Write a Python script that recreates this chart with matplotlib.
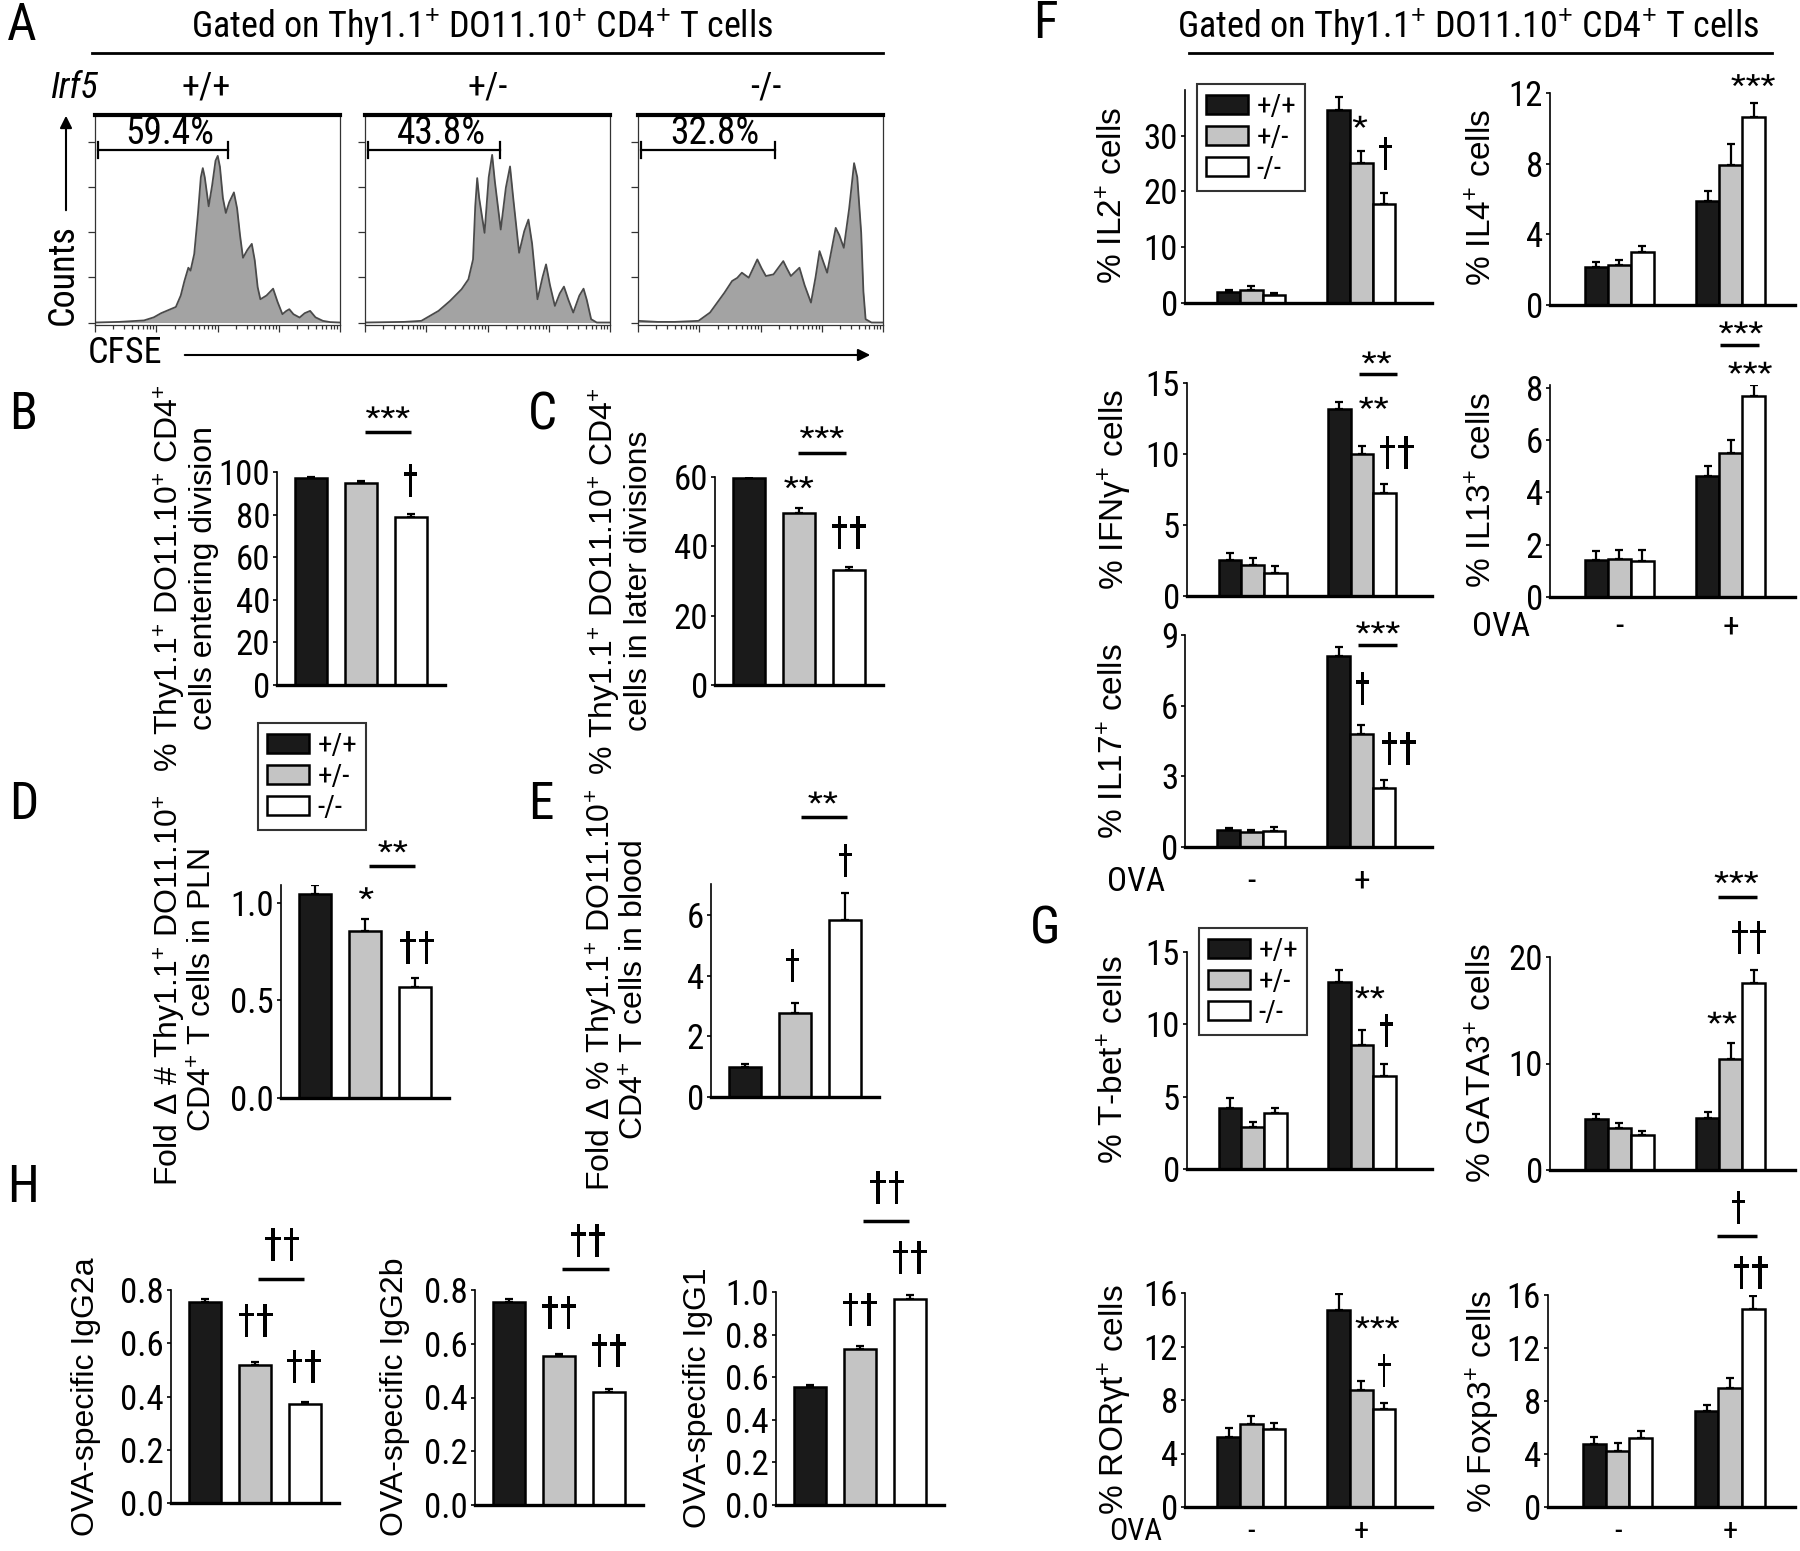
import numpy as np
import matplotlib.pyplot as plt
from matplotlib import font_manager
from matplotlib.font_manager import FontProperties
from matplotlib.patches import Patch, FancyArrowPatch, PathPatch
from matplotlib.lines import Line2D
from matplotlib.textpath import TextPath
from matplotlib.transforms import blended_transform_factory, Affine2D, IdentityTransform

plt.rcParams['font.family'] = ['Liberation Sans', 'DejaVu Sans']
plt.rcParams['mathtext.fontset'] = 'custom'
plt.rcParams['mathtext.rm'] = 'Liberation Sans'
plt.rcParams['mathtext.it'] = 'Liberation Sans:italic'
plt.rcParams['mathtext.bf'] = 'Liberation Sans:bold'

# narrow face for ticks / short labels (falls back to regular, a bit smaller)
_names = {f.name for f in font_manager.fontManager.ttflist}
NARROW = next((n for n in ['Liberation Sans Narrow', 'Roboto Condensed', 'Open Sans Condensed',
                           'Arial Narrow'] if n in _names), None)
NS = 1.0
if NARROW is None:
    NARROW, NS = 'Liberation Sans', 0.86

# ---------------- data ----------------
genotypes = ['+/+', '+/-', '-/-']
ova_groups = ['-', '+']
gate_labels = ['59.4%', '43.8%', '32.8%']
gate_ends = [0.541, 0.549, 0.558]

# CFSE histograms (x: fraction of log axis, y: fraction of box height)
wt_x = [0.00, 0.10, 0.20, 0.24, 0.27, 0.30, 0.33, 0.35, 0.365, 0.381, 0.39, 0.405, 0.42, 0.432, 0.44, 0.448,
        0.464, 0.478, 0.492, 0.501, 0.51, 0.522, 0.534, 0.548, 0.567, 0.58, 0.592, 0.604, 0.622, 0.64, 0.652,
        0.664, 0.675, 0.70, 0.727, 0.745, 0.765, 0.78, 0.793, 0.81, 0.835, 0.856, 0.878, 0.90, 0.93, 0.96, 1.00]
wt_y = [0.000, 0.003, 0.010, 0.025, 0.045, 0.060, 0.075, 0.130, 0.200, 0.264, 0.250, 0.330, 0.520, 0.700, 0.744,
        0.700, 0.560, 0.660, 0.780, 0.803, 0.750, 0.600, 0.528, 0.580, 0.627, 0.550, 0.420, 0.312, 0.350, 0.379,
        0.300, 0.170, 0.112, 0.130, 0.163, 0.100, 0.040, 0.055, 0.064, 0.040, 0.024, 0.045, 0.056, 0.025, 0.008,
        0.002, 0.000]
het_x = [0.00, 0.16, 0.23, 0.30, 0.347, 0.394, 0.422, 0.441, 0.450, 0.458, 0.466, 0.488, 0.505, 0.519, 0.530,
         0.554, 0.575, 0.592, 0.605, 0.629, 0.650, 0.667, 0.682, 0.704, 0.725, 0.739, 0.755, 0.775, 0.795, 0.812,
         0.830, 0.850, 0.875, 0.892, 0.905, 0.923, 0.946, 1.00]
het_y = [0.000, 0.003, 0.008, 0.056, 0.104, 0.160, 0.208, 0.304, 0.560, 0.696, 0.600, 0.432, 0.700, 0.808, 0.680,
         0.448, 0.650, 0.752, 0.600, 0.336, 0.440, 0.496, 0.380, 0.112, 0.220, 0.280, 0.180, 0.080, 0.140, 0.173,
         0.110, 0.048, 0.130, 0.163, 0.110, 0.016, 0.000, 0.000]
ko_x = [0.00, 0.08, 0.15, 0.247, 0.294, 0.353, 0.384, 0.405, 0.424, 0.452, 0.487, 0.505, 0.522, 0.553, 0.593,
        0.608, 0.624, 0.659, 0.68, 0.706, 0.725, 0.741, 0.757, 0.772, 0.79, 0.807, 0.822, 0.840, 0.862, 0.882,
        0.895, 0.911, 0.920, 0.929, 0.953, 1.00]
ko_y = [0.008, 0.003, 0.003, 0.008, 0.048, 0.144, 0.200, 0.215, 0.240, 0.216, 0.304, 0.260, 0.224, 0.232, 0.296,
        0.260, 0.224, 0.264, 0.180, 0.096, 0.220, 0.344, 0.290, 0.240, 0.350, 0.456, 0.420, 0.360, 0.550, 0.768,
        0.700, 0.432, 0.150, 0.016, 0.000, 0.000]

entering_division = [97.0, 95.0, 79.0]
entering_division_err = [0.5, 0.8, 1.2]
later_divisions = [59.8, 49.7, 33.1]
later_divisions_err = [1.0, 1.4, 1.0]
fold_pln = [1.047, 0.857, 0.569]
fold_pln_err = [0.045, 0.062, 0.047]
fold_blood = [0.99, 2.77, 5.84]
fold_blood_err = [0.11, 0.33, 0.89]

igg2a = [0.755, 0.52, 0.37]
igg2a_err = [0.012, 0.010, 0.010]
igg2b = [0.755, 0.555, 0.42]
igg2b_err = [0.010, 0.008, 0.012]
igg1 = [0.555, 0.733, 0.967]
igg1_err = [0.008, 0.012, 0.018]

# rows: OVA -, OVA + ; columns: +/+, +/-, -/-
il2 = [[1.9, 2.4, 1.4], [34.7, 25.1, 17.8]]
il2_err = [[0.4, 0.6, 0.4], [2.2, 2.2, 2.0]]
il4 = [[2.17, 2.26, 3.01], [5.88, 7.95, 10.65]]
il4_err = [[0.26, 0.28, 0.32], [0.56, 1.19, 0.79]]
ifng = [[2.53, 2.18, 1.59], [13.15, 9.99, 7.27]]
ifng_err = [[0.52, 0.47, 0.52], [0.52, 0.56, 0.65]]
il13 = [[1.40, 1.46, 1.38], [4.61, 5.50, 7.67]]
il13_err = [[0.35, 0.32, 0.40], [0.38, 0.49, 0.42]]
il17 = [[0.71, 0.64, 0.66], [8.09, 4.81, 2.52]]
il17_err = [[0.09, 0.07, 0.19], [0.40, 0.38, 0.34]]
tbet = [[4.25, 2.87, 3.84], [12.92, 8.55, 6.41]]
tbet_err = [[0.67, 0.39, 0.41], [0.85, 1.04, 0.88]]
gata3 = [[4.75, 3.90, 3.30], [4.84, 10.40, 17.60]]
gata3_err = [[0.55, 0.50, 0.40], [0.56, 1.50, 1.15]]
rorgt = [[5.20, 6.20, 5.80], [14.75, 8.75, 7.33]]
rorgt_err = [[0.68, 0.60, 0.50], [1.18, 0.70, 0.42]]
foxp3 = [[4.75, 4.24, 5.20], [7.26, 8.99, 14.94]]
foxp3_err = [[0.52, 0.58, 0.55], [0.42, 0.78, 1.01]]

FILLS = ['#1a1a1a', '#c4c4c4', 'white']
GROUP_GAP = 4.85

# ---------------- figure helpers ----------------
W, H = 1800, 1551
fig = plt.figure(figsize=(18, 15.51), dpi=100)
GLYPH_FONT = FontProperties(family=NARROW)


def fx(x):
    return x / W


def fy(y):
    return 1 - y / H


def px_axes(x0, y0, x1, y1):
    return fig.add_axes([fx(x0), fy(y1), (x1 - x0) / W, (y1 - y0) / H])


def ftext(x, y, s, **kw):
    kw.setdefault('ha', 'center')
    kw.setdefault('va', 'center')
    fig.text(fx(x), fy(y), s, **kw)


def ntext(x, y, s, size, **kw):
    # short labels in the narrow face
    ftext(x, y, s, fontsize=size * NS, family=[NARROW, 'DejaVu Sans'], **kw)


def fline(x0, x1, y, lw=2):
    fig.add_artist(Line2D([fx(x0), fx(x1)], [fy(y), fy(y)], transform=fig.transFigure,
                          color='black', lw=lw))


def style_bar_axes(ax, ylim, yticks, fmt='{:g}'):
    ax.set_ylim(*ylim)
    ax.set_yticks(yticks)
    ax.set_yticklabels([fmt.format(t) for t in yticks])
    for s in ('top', 'right'):
        ax.spines[s].set_visible(False)
    ax.spines['left'].set_linewidth(1.2)
    ax.spines['bottom'].set_linewidth(2.4)
    ax.set_xticks([])
    ax.tick_params(axis='y', direction='out', length=3, width=1.2, labelsize=25 * NS, pad=2,
                   labelfontfamily=NARROW)
    ax.patch.set_alpha(0)


def note(ax, x, y, s):
    # significance marks: glyph outline scaled to the tall/narrow look of the source
    star = '*' in s
    tp = TextPath((0, 0), s, size=40, prop=GLYPH_FONT)
    ext = tp.get_extents()
    if star:
        hgt, wid = 12, 14.5 * len(s)
    else:
        hgt, wid = 33, (13 if len(s) == 1 else 34)
    cx, cy = ax.transData.transform((x, y))
    tr = (Affine2D().translate(-(ext.x0 + ext.width / 2), -(ext.y0 + ext.height / 2))
          .scale(wid / ext.width, hgt / ext.height).translate(cx, cy))
    fig.add_artist(PathPatch(tr.transform_path(tp), transform=IdentityTransform(),
                             facecolor='black', edgecolor='none'))


def bracket(ax, x0, x1, y):
    ax.plot([x0, x1], [y, y], color='black', lw=2.5, clip_on=False, solid_capstyle='butt')


def three_bars(rect, vals, errs, ylim, yticks, fmt, notes=(), brackets=()):
    ax = px_axes(*rect)
    x = np.arange(3)
    ax.errorbar(x, vals, yerr=[np.zeros(3), errs], fmt='none', ecolor='black',
                elinewidth=1.6, capsize=3, capthick=1.6, zorder=1)
    ax.bar(x, vals, width=0.64, color=FILLS, edgecolor='black', linewidth=1.8, zorder=2)
    ax.set_xlim(-0.67, 2.68)
    style_bar_axes(ax, ylim, yticks, fmt)
    for n in notes:
        note(ax, *n)
    for b in brackets:
        bracket(ax, *b)
    return ax


def group_bars(rect, vals, errs, ylim, yticks, xlim, notes=(), brackets=()):
    ax = px_axes(*rect)
    for g in range(2):
        x = np.arange(3) + g * GROUP_GAP
        ax.errorbar(x, vals[g], yerr=[np.zeros(3), errs[g]], fmt='none', ecolor='black',
                    elinewidth=1.6, capsize=3, capthick=1.6, zorder=1)
        ax.bar(x, vals[g], width=1.0, color=FILLS, edgecolor='black', linewidth=1.8, zorder=2)
    ax.set_xlim(*xlim)
    style_bar_axes(ax, ylim, yticks)
    for n in notes:
        note(ax, *n)
    for b in brackets:
        bracket(ax, *b)
    return ax


def ova_labels(ax, with_ova=True, dy=32, size=24):
    h = ax.get_position().height * H
    tr = blended_transform_factory(ax.transData, ax.transAxes)
    yy = -dy / h
    fam = [NARROW, 'DejaVu Sans']
    for i, s in enumerate(ova_groups):
        ax.text(1 + i * GROUP_GAP, yy, s, transform=tr, ha='center', va='center',
                fontsize=size * NS, family=fam)
    if with_ova:
        ax.text(-0.2, yy, 'OVA', transform=ax.transAxes, ha='center', va='center',
                fontsize=size * NS, family=fam)


def legend_at(x, y):
    handles = [Patch(facecolor=c, edgecolor='black', linewidth=1.8) for c in FILLS]
    leg = fig.legend(handles, genotypes, loc='upper left', bbox_to_anchor=(fx(x), fy(y)),
                     bbox_transform=fig.transFigure, frameon=True, fancybox=False,
                     prop={'family': NARROW, 'size': 21 * NS},
                     handlelength=1.45, handleheight=0.6, handletextpad=0.3, labelspacing=0.1,
                     borderpad=0.3, borderaxespad=0)
    leg.get_frame().set_edgecolor('black')
    leg.get_frame().set_linewidth(1.5)


SUP = '$^{+}$'

# ---------------- panel letters ----------------
for letter, (x, y) in {'A': (22, 26), 'B': (23, 415), 'C': (542, 415), 'D': (24, 805),
                       'E': (541, 805), 'H': (23, 1188), 'F': (1045, 24), 'G': (1045, 930)}.items():
    ntext(x, y, letter, 37)

# ---------------- panel A ----------------
ntext(482, 27, f'Gated on Thy1.1{SUP} DO11.10{SUP} CD4{SUP} T cells', 26)
fline(92, 883, 53)
ntext(74, 88, 'Irf5', 26, style='italic')
for gx, g in zip([206, 488, 766], genotypes):
    ntext(gx, 88, g, 26)

major = np.linspace(0, 1, 5)
minor = [(d + np.log10(k)) / 4 for d in range(4) for k in range(2, 10)]
hist_boxes = [(95, 115, 340, 325), (365, 115, 610, 325), (638, 115, 883, 325)]
for rect, hx, hy, lab, gend in zip(hist_boxes, [wt_x, het_x, ko_x], [wt_y, het_y, ko_y],
                                   gate_labels, gate_ends):
    ax = px_axes(*rect)
    ax.fill_between(hx, hy, 0, color='#a3a3a3', lw=0)
    ax.plot(hx, hy, color='#4a4a4a', lw=1.3)
    ax.set_xlim(0, 1)
    ax.set_ylim(-0.012, 1.0)
    for s in ('left', 'right', 'bottom'):
        ax.spines[s].set_linewidth(0.9)
        ax.spines[s].set_color('#333333')
    ax.spines['top'].set_linewidth(3)
    ax.set_xticks(major)
    ax.set_xticks(minor, minor=True)
    ax.set_yticks([0, 0.217, 0.435, 0.652, 0.87])
    ax.tick_params(which='both', direction='out', labelleft=False, labelbottom=False,
                   width=0.9, color='#333333')
    ax.tick_params(which='major', length=5)
    ax.tick_params(which='minor', length=3)
    ax.plot([0.012, gend], [0.833, 0.833], color='black', lw=1.6)
    for xe in (0.012, gend):
        ax.plot([xe, xe], [0.795, 0.871], color='black', lw=1.6)
    ax.text((0.012 + gend) / 2 + 0.03, 0.91, lab, ha='center', va='center',
            fontsize=27 * NS, family=[NARROW, 'DejaVu Sans'])

ntext(63, 275, 'Counts', 26, rotation=90)
fig.add_artist(FancyArrowPatch((fx(66), fy(213)), (fx(66), fy(113)), transform=fig.transFigure,
                               arrowstyle='-|>', mutation_scale=18, lw=1.5, color='black'))
ntext(88, 353, 'CFSE', 26, ha='left')
fig.add_artist(FancyArrowPatch((fx(182), fy(355)), (fx(873), fy(355)), transform=fig.transFigure,
                               arrowstyle='-|>', mutation_scale=18, lw=1.5, color='black'))

# ---------------- panels B-E ----------------
three_bars((277, 472, 445, 685), entering_division, entering_division_err, (0, 100),
           [0, 20, 40, 60, 80, 100], '{:g}',
           notes=[(2.0, 96, '†'), (1.54, 128, '***')], brackets=[(1.08, 2.0, 119)])
ftext(185, 578, f'% Thy1.1{SUP} DO11.10{SUP} CD4{SUP}\ncells entering division',
      fontsize=23, rotation=90, linespacing=1.05)

three_bars((715, 477, 883, 685), later_divisions, later_divisions_err, (0, 60),
           [0, 20, 40, 60], '{:g}',
           notes=[(1.0, 58.5, '**'), (2.0, 44.1, '††'), (1.46, 72.9, '***')],
           brackets=[(0.98, 1.94, 67)])
ftext(620, 581, f'% Thy1.1{SUP} DO11.10{SUP} CD4{SUP}\ncells in later divisions',
      fontsize=23, rotation=90, linespacing=1.05)

legend_at(258, 723)

three_bars((281, 885, 449, 1098), fold_pln, fold_pln_err, (0, 1.092),
           [0.0, 0.5, 1.0], '{:.1f}',
           notes=[(1.03, 1.05, '*'), (2.05, 0.774, '††'), (1.56, 1.29, '**')],
           brackets=[(1.09, 2.01, 1.19)])
ftext(185, 990, f'Fold Δ # Thy1.1{SUP} DO11.10{SUP}\nCD4{SUP} T cells in PLN',
      fontsize=23, rotation=90, linespacing=1.05)

three_bars((711, 884, 879, 1097), fold_blood, fold_blood_err, (0, 7.02),
           [0, 2, 4, 6], '{:g}',
           notes=[(0.95, 4.32, '†'), (2.02, 7.79, '†'), (1.56, 9.87, '**')],
           brackets=[(1.12, 2.04, 9.24)])
ftext(617, 990, f'Fold Δ % Thy1.1{SUP} DO11.10{SUP}\nCD4{SUP} T cells in blood',
      fontsize=23, rotation=90, linespacing=1.05)

# ---------------- panel H ----------------
h_ticks8 = [0.0, 0.2, 0.4, 0.6, 0.8]
three_bars((171, 1290, 339, 1503), igg2a, igg2a_err, (0, 0.8), h_ticks8, '{:.1f}',
           notes=[(1.02, 0.684, '††'), (1.98, 0.511, '††'), (1.55, 0.97, '††')],
           brackets=[(1.06, 1.98, 0.842)])
ftext(86, 1397, 'OVA-specific IgG2a', fontsize=23, rotation=90)

three_bars((475, 1290, 643, 1505), igg2b, igg2b_err, (0, 0.8), h_ticks8, '{:.1f}',
           notes=[(1.01, 0.717, '††'), (2.0, 0.576, '††'), (1.58, 0.985, '††')],
           brackets=[(1.07, 2.0, 0.877)])
ftext(395, 1397, 'OVA-specific IgG2b', fontsize=23, rotation=90)

three_bars((776, 1292, 944, 1505), igg1, igg1_err, (0, 1.0), [0.0, 0.2, 0.4, 0.6, 0.8, 1.0], '{:.1f}',
           notes=[(1.0, 0.92, '††'), (2.0, 1.16, '††'), (1.55, 1.49, '††')],
           brackets=[(1.06, 1.98, 1.333)])
ftext(698, 1398, 'OVA-specific IgG1', fontsize=23, rotation=90)

# ---------------- panel F ----------------
ntext(1468, 27, f'Gated on Thy1.1{SUP} DO11.10{SUP} CD4{SUP} T cells', 26)
fline(1189, 1772, 53)

XL = (-1.92, 8.96)   # left column
XR = (-2.0, 8.65)    # right column

group_bars((1185, 90, 1432, 303), il2, il2_err, (0, 38.2), [0, 10, 20, 30], XL,
           notes=[(5.79, 32.5, '*'), (6.9, 26.9, '†')])
ftext(1114, 195, f'% IL2{SUP} cells', fontsize=24, rotation=90)
legend_at(1197, 84)

group_bars((1550, 93, 1795, 305), il4, il4_err, (0, 12), [0, 4, 8, 12], XR,
           notes=[(6.83, 12.73, '***')])
ftext(1483, 197, f'% IL4{SUP} cells', fontsize=24, rotation=90)

group_bars((1187, 383, 1432, 596), ifng, ifng_err, (0, 15), [0, 5, 10, 15], XL,
           notes=[(6.37, 13.6, '**'), (7.4, 10.1, '††'), (6.5, 16.8, '**')],
           brackets=[(5.7, 7.4, 15.6)])
ftext(1115, 489, f'% IFNγ{SUP} cells', fontsize=24, rotation=90)

ax13 = group_bars((1550, 385, 1795, 597), il13, il13_err, (0, 8.1), [0, 2, 4, 6, 8], XR,
                  notes=[(6.7, 8.76, '***'), (6.3, 10.3, '***')],
                  brackets=[(5.4, 7.1, 9.64)])
ftext(1483, 490, f'% IL13{SUP} cells', fontsize=24, rotation=90)
ova_labels(ax13, dy=30)

ax17 = group_bars((1185, 635, 1432, 847), il17, il17_err, (0, 9), [0, 3, 6, 9], XL,
                  notes=[(5.9, 6.74, '†'), (7.5, 4.19, '††'), (6.58, 9.32, '***')],
                  brackets=[(5.7, 7.4, 8.56)])
ftext(1115, 741, f'% IL17{SUP} cells', fontsize=24, rotation=90)
ova_labels(ax17, dy=35)

# ---------------- panel G ----------------
group_bars((1187, 952, 1432, 1169), tbet, tbet_err, (0, 15), [0, 5, 10, 15], XL,
           notes=[(6.2, 12.2, '**'), (6.93, 9.6, '†')])
ftext(1115, 1060, f'% T-bet{SUP} cells', fontsize=24, rotation=90)
legend_at(1199, 928)

group_bars((1550, 957, 1795, 1170), gata3, gata3_err, (0, 20), [0, 10, 20], XR,
           notes=[(5.48, 14.3, '**'), (6.65, 21.8, '††'), (6.1, 27.5, '***')],
           brackets=[(5.3, 7.0, 25.6)])
ftext(1483, 1063, f'% GATA3{SUP} cells', fontsize=24, rotation=90)

axr = group_bars((1185, 1293, 1432, 1507), rorgt, rorgt_err, (0, 16), [0, 4, 8, 12, 16], XL,
                 notes=[(6.55, 13.8, '***'), (6.85, 10.2, '†')])
ftext(1115, 1400, f'% RORγt{SUP} cells', fontsize=24, rotation=90)
ova_labels(axr, dy=24, size=22)

axf = group_bars((1548, 1295, 1795, 1507), foxp3, foxp3_err, (0, 16), [0, 4, 8, 12, 16], XR,
                 notes=[(6.75, 17.7, '††'), (6.2, 22.6, '†')],
                 brackets=[(5.3, 7.0, 20.45)])
ftext(1483, 1401, f'% Foxp3{SUP} cells', fontsize=24, rotation=90)
ova_labels(axf, with_ova=False, dy=24, size=22)

fig.savefig('out.png', dpi=100)
